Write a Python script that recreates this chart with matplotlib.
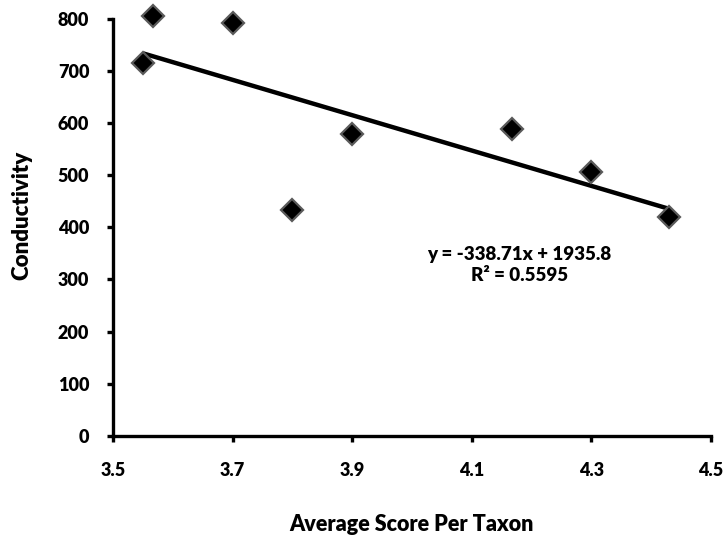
import numpy as np
import matplotlib
matplotlib.use("Agg")
import matplotlib.pyplot as plt

plt.rcParams['font.family'] = ['Lato', 'DejaVu Sans']
plt.rcParams['font.weight'] = 'heavy'

# data
aspt = [3.55, 3.567, 3.70, 3.80, 3.90, 4.168, 4.30, 4.43]
conductivity = [714, 805, 791, 434, 579, 588, 505, 419]

# trendline as reported on the chart
slope = -338.71
intercept = 1935.8
r_squared = 0.5595

x_ticks = [3.5, 3.7, 3.9, 4.1, 4.3, 4.5]
y_ticks = [0, 100, 200, 300, 400, 500, 600, 700, 800]

fig = plt.figure(figsize=(7.24, 5.37), dpi=100)
ax = fig.add_axes([0.156, 0.188, 0.826, 0.7775])

# linear trendline over the data range
xs = np.array([min(aspt), max(aspt)])
ax.plot(xs, slope * xs + intercept, color='black', lw=3.2, zorder=2,
        solid_capstyle='butt')

ax.plot(aspt, conductivity, linestyle='none', marker='D', markersize=11,
        markerfacecolor='black', markeredgecolor='#5a5a5a',
        markeredgewidth=1.6, zorder=3, clip_on=False)

ax.text(4.18, 328, f"y = {slope}x + {intercept}\nR² = {r_squared}",
        ha='center', va='center', fontsize=13.5, fontweight='heavy',
        linespacing=1.3)

ax.set_xlim(3.5, 4.5)
ax.set_ylim(0, 800)
ax.set_xticks(x_ticks)
ax.set_xticklabels([f"{v:.1f}" for v in x_ticks])
ax.set_yticks(y_ticks)

for s in ['top', 'right']:
    ax.spines[s].set_visible(False)
for s in ['left', 'bottom']:
    ax.spines[s].set_linewidth(2.4)

ax.tick_params(axis='both', direction='out', length=4, width=2.4,
               labelsize=13)
ax.tick_params(axis='y', pad=13)
ax.tick_params(axis='x', pad=15)

ax.set_xlabel("Average Score Per Taxon", fontsize=15.5, fontweight='heavy')
ax.set_ylabel("Conductivity", fontsize=16, fontweight='heavy')
ax.xaxis.set_label_coords(0.5, -0.186)
ax.yaxis.set_label_coords(-0.134, 0.528)

fig.savefig("out.png", dpi=100)
